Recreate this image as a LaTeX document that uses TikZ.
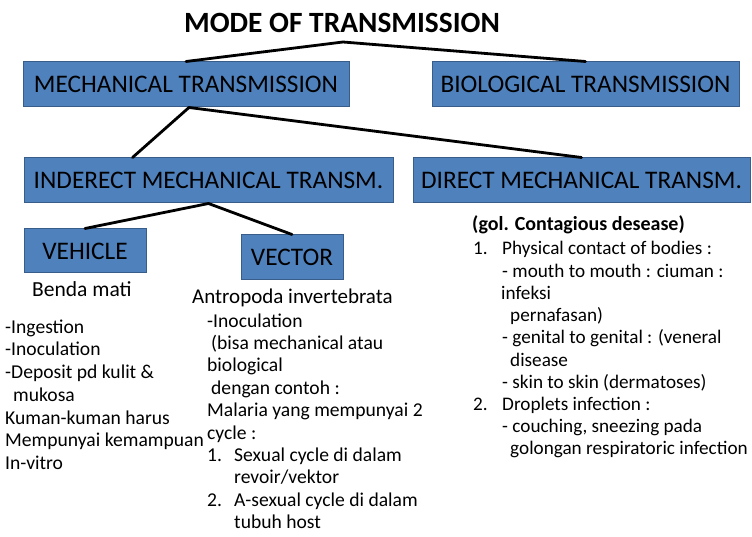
\documentclass[tikz,border=0pt]{standalone}
\usepackage{fontspec}
\setmainfont{Carlito}
\begin{document}
\definecolor{boxfill}{HTML}{4F81BD}
\definecolor{boxline}{HTML}{385D8A}
\begin{tikzpicture}[x=1pt,y=-1pt,
  bluebox/.style={draw=boxline,fill=boxfill,line width=1pt,inner sep=0pt,
    font=\fontsize{25.3}{27}\selectfont,text=black},
  link/.style={line width=2.8pt,line cap=round,black},
  body/.style={anchor=base west,inner sep=0pt,font=\fontsize{19.6}{22}\selectfont},
  bodyright/.style={body,font=\fontsize{19.2}{22}\selectfont},
  titletext/.style={inner sep=0pt,font=\fontsize{29.4}{32}\selectfont\bfseries}]
\useasboundingbox (0,0) rectangle (752,537);

% title and top level
\node[titletext] (title) at (342,22.5) {MODE OF TRANSMISSION};
\coordinate (apex) at (343,42);
\node[bluebox,minimum width=326pt,minimum height=45pt] (mech) at (186,84.5) {MECHANICAL TRANSMISSION};
\node[bluebox,minimum width=307pt,minimum height=45pt] (bio) at (585.5,84.5) {BIOLOGICAL TRANSMISSION};

% second level
\node[bluebox,minimum width=369pt,minimum height=45pt] (ind) at (208.5,180.5) {INDERECT MECHANICAL TRANSM.};
\node[bluebox,minimum width=337pt,minimum height=45pt] (dir) at (581.5,180.5) {DIRECT MECHANICAL TRANSM.};

% third level
\node[bluebox,minimum width=122pt,minimum height=44pt] (veh) at (85,251) {VEHICLE};
\node[bluebox,minimum width=102pt,minimum height=45pt] (vec) at (292,257.5) {VECTOR};

% connectors
\draw[link] (mech.north) -- (apex) -- (bio.north);
\coordinate (indtop) at ([xshift=109pt]ind.north west);
\draw[link] (indtop) -- ([xshift=3pt]mech.south) -- (dir.north);
\draw[link] (veh.north) -- (ind.south) -- (vec.north);

% vehicle notes
\node[body,font=\fontsize{21.5}{24}\selectfont] (benda) at (32,297) {Benda mati};
\foreach \i/\x/\t in {1/5/{-Ingestion},2/5/{-Inoculation},3/5/{-Deposit pd kulit \&},
    4/13/{mukosa},5/5/{Kuman-kuman harus},6/5/{Mempunyai kemampuan},7/5/{In-vitro}}{
  \pgfmathsetmacro{\yy}{333+(\i-1)*22.75}
  \node[body] (veh\i) at (\x,\yy) {\t};
}

% vector notes
\node[body,font=\fontsize{21}{24}\selectfont] (antro) at (192,304) {Antropoda invertebrata};
\foreach \i/\x/\t in {1/207/{-Inoculation},2/211/{(bisa mechanical atau},3/207/{biological},
    4/211/{dengan contoh :},5/207/{Malaria yang mempunyai 2},6/207/{cycle :},
    7/207/{\makebox[27pt][l]{1.}Sexual cycle di dalam},8/234/{revoir/vektor},
    9/207/{\makebox[27pt][l]{2.}A-sexual cycle di dalam},10/234/{tubuh host}}{
  \pgfmathsetmacro{\yy}{327+(\i-1)*22.4}
  \node[body] (vec\i) at (\x,\yy) {\t};
}

% direct transmission notes
\node[body,font=\fontsize{20}{22}\selectfont\bfseries] (gol) at (472,231) {(gol. Contagious desease)};
\foreach \i/\x/\t in {1/473/{\makebox[29pt][l]{1.}Physical contact of bodies :},
    2/502/{- mouth to mouth : ciuman :},3/501/{infeksi},4/510/{pernafasan)},
    5/502/{- genital to genital : (veneral},6/510/{disease},
    7/502/{- skin to skin (dermatoses)},
    8/473/{\makebox[29pt][l]{2.}Droplets infection :},
    9/502/{- couching, sneezing pada},10/510/{golongan respiratoric infection}}{
  \pgfmathsetmacro{\yy}{255+(\i-1)*22.2}
  \node[bodyright] (dir\i) at (\x,\yy) {\t};
}
\end{tikzpicture}
\end{document}
